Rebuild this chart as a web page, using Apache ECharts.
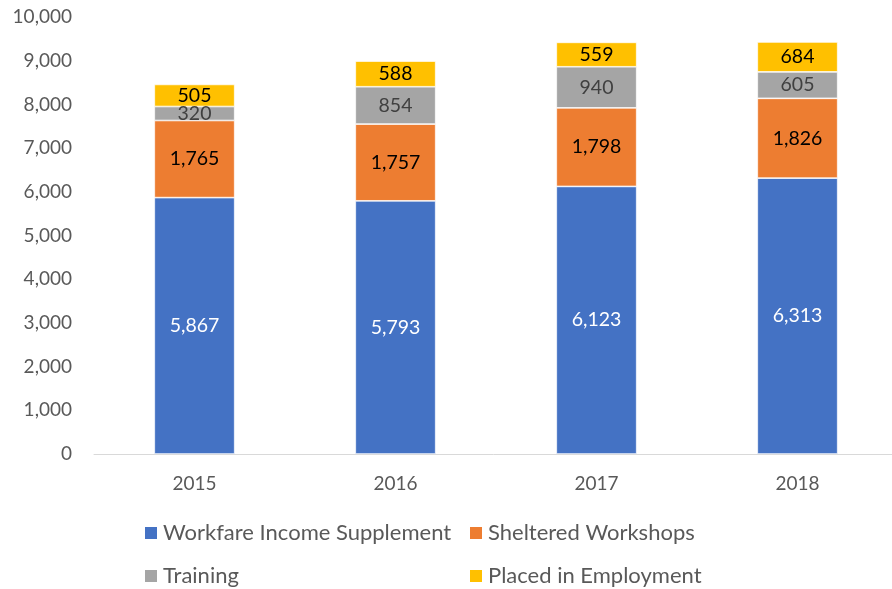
<!DOCTYPE html>
<html>
<head>
<meta charset="utf-8">
<script src="https://cdn.jsdelivr.net/npm/echarts@6/dist/echarts.min.js"></script>
<style>
html,body{margin:0;padding:0;background:#fff;}
#main{width:892px;height:589px;}
</style>
</head>
<body>
<div id="main"></div>
<script>
var years=['2015','2016','2017','2018'];
var workfareValues=[5867,5793,6123,6313];
var shelteredValues=[1765,1757,1798,1826];
var trainingValues=[320,854,940,605];
var placedValues=[505,588,559,684];

var fontName='Lato, "Open Sans", sans-serif';

function fmt(p){
    return p.value.toLocaleString('en-US');
}

function makeSeries(name,data,color,labelColor){
    return {
        name:name,
        type:'bar',
        stack:'total',
        data:data,
        barWidth:'40%',
        itemStyle:{color:color,borderColor:'#ffffff',borderWidth:0.7},
        label:{
            show:true,
            position:'inside',
            color:labelColor,
            fontSize:19.5,
            fontFamily:fontName,
            formatter:fmt
        }
    };
}

function makeLegend(name,left,top){
    return {
        data:[name],
        left:left,
        top:top,
        itemWidth:14,
        itemHeight:14,
        itemGap:8,
        icon:'rect',
        textStyle:{color:'#595959',fontSize:22,fontFamily:fontName}
    };
}

var myChart=echarts.init(document.getElementById('main'));
var option={
    animation:false,
    textStyle:{fontFamily:fontName},
    grid:{left:94,top:17,width:804,height:437,containLabel:false,outerBoundsMode:'none'},
    xAxis:{
        type:'category',
        data:years,
        axisLine:{lineStyle:{color:'#d9d9d9',width:1}},
        axisTick:{show:false},
        axisLabel:{color:'#595959',fontSize:19,margin:20,fontFamily:fontName}
    },
    yAxis:{
        type:'value',
        min:0,
        max:10000,
        interval:1000,
        splitLine:{show:false},
        axisLine:{show:false},
        axisTick:{show:false},
        axisLabel:{
            color:'#595959',
            fontSize:19,
            margin:22,
            fontFamily:fontName,
            formatter:function(v){return v.toLocaleString('en-US');}
        }
    },
    legend:[
        makeLegend('Workfare Income Supplement',138,517),
        makeLegend('Sheltered Workshops',463,517),
        makeLegend('Training',138,560),
        makeLegend('Placed in Employment',463,560)
    ],
    series:[
        makeSeries('Workfare Income Supplement',workfareValues,'#4472c4','#ffffff'),
        makeSeries('Sheltered Workshops',shelteredValues,'#ed7d31','#000000'),
        makeSeries('Training',trainingValues,'#a5a5a5','#404040'),
        makeSeries('Placed in Employment',placedValues,'#ffc000','#000000')
    ]
};
myChart.setOption(option);
</script>
</body>
</html>
